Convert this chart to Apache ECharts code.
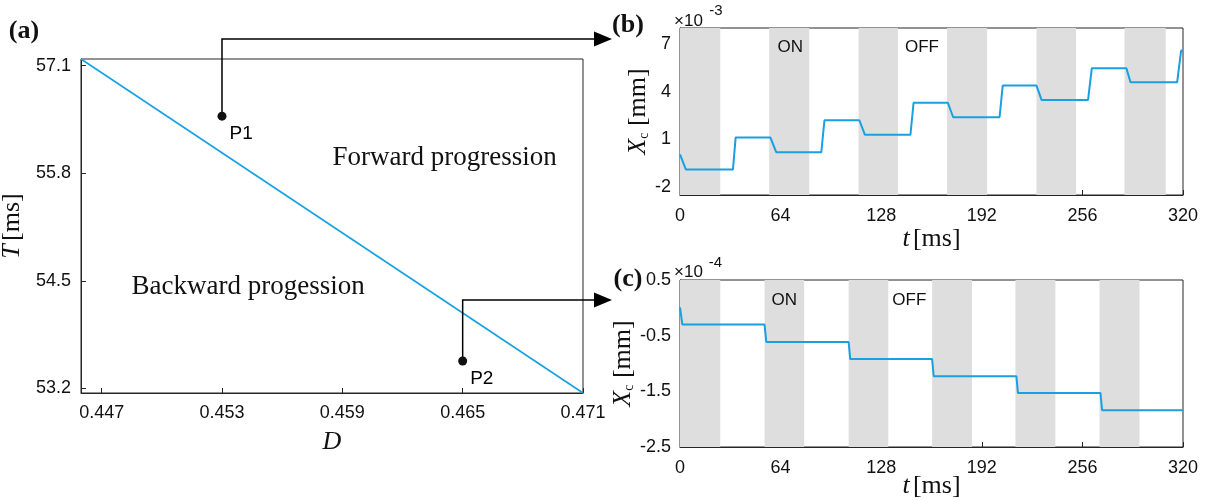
<!DOCTYPE html>
<html><head><meta charset="utf-8">
<script src="https://cdn.jsdelivr.net/npm/echarts@6/dist/echarts.min.js"></script>
<style>html,body{margin:0;padding:0;background:#fff}#c{width:1210px;height:500px}</style>
</head><body><div id="c"></div>
<script>
// ---------- Panel (a) ----------
const aLineD = [0.44597, 0.471];
const aLineT = [57.181, 53.143];
const pointNames = ['P1', 'P2'];
const pointD = [0.453, 0.465];
const pointT = [56.49, 53.53];
const aXTicks = [0.447, 0.453, 0.459, 0.465, 0.471];
const aYTicks = [53.2, 54.5, 55.8, 57.1];
const aTexts = ['Forward progression', 'Backward progession'];
const aTextD = [0.4641, 0.4543];
const aTextT = [55.99, 54.42];
// ---------- Panel (b) ----------
const bT = [0, 3.7, 33.7, 35.4, 57.5, 61.2, 89.9, 91.9, 114.1, 117.6, 146.6, 148.6, 170.4, 173.8, 203.3, 205.3, 226.8, 230, 259.6, 262, 284, 286.6, 316.3, 318.8, 320];
const bX = [0.05, -0.89, -0.89, 1.12, 1.12, 0.19, 0.19, 2.2, 2.2, 1.29, 1.29, 3.3, 3.3, 2.39, 2.39, 4.38, 4.38, 3.48, 3.48, 5.47, 5.47, 4.59, 4.59, 6.58, 6.58];
const bBandStart = [0, 56.7, 113.6, 169.9, 226.8, 282.8];
const bBandEnd = [25.6, 82.2, 138.7, 195.4, 252, 309];
const bYTicks = [-2, 1, 4, 7];
const bLabels = ['ON', 'OFF'];
const bLabelT = [70.1, 153.9];
const bLabelX = [6.77, 6.77];
// ---------- Panel (c) ----------
const cT = [0, 1.5, 53.8, 54.9, 107.3, 108.3, 160.4, 161.4, 214, 215, 267.5, 268.5, 320];
const cX = [0.01, -0.30, -0.30, -0.615, -0.615, -0.92, -0.92, -1.227, -1.227, -1.532, -1.532, -1.838, -1.838];
const cBandStart = [0, 53.8, 107.3, 160.4, 213.4, 266.9];
const cBandEnd = [25.6, 79, 132.5, 185.8, 238.8, 292.3];
const cYTicks = [-2.5, -1.5, -0.5, 0.5];
const cLabels = ['ON', 'OFF'];
const cLabelT = [66.3, 145.9];
const cLabelX = [0.14, 0.14];
const tTicks = [0, 64, 128, 192, 256, 320];

const SERIF = '"Liberation Serif", "Times New Roman", serif';
const SANS = '"Liberation Sans", Arial, sans-serif';
const INK = '#111111';
const AX = '#262626';
const BLUE = '#18a0e2';
const BAND = '#dedede';

const gridA = {left: 81, top: 59, width: 502, height: 334};
const gridB = {left: 680, top: 28, width: 503, height: 167};
const gridC = {left: 680, top: 280, width: 503, height: 167};

function gridOpt(g) {
  return Object.assign({show: true, borderColor: AX, borderWidth: 1, backgroundColor: 'transparent', containLabel: false, outerBoundsMode: 'none'}, g);
}
function valAxis(opts) {
  const base = {
    type: 'value', scale: true,
    axisLine: {show: true, onZero: false, lineStyle: {color: AX, width: 1}},
    axisTick: {show: true, inside: true, length: 5, lineStyle: {color: AX, width: 1}, customValues: opts.ticks},
    axisLabel: {show: true, color: INK, fontFamily: SANS, fontSize: opts.fs || 18, margin: opts.margin || 10, customValues: opts.ticks, formatter: opts.fmt},
    splitLine: {show: false},
    nameTextStyle: {}
  };
  delete opts.ticks; delete opts.fs; delete opts.margin; delete opts.fmt;
  return Object.assign(base, opts);
}
function xmsName(gap) {
  return {
    name: '{t|t} {n|[ms]}', nameLocation: 'middle', nameGap: gap, nameMoveOverlap: false,
    nameTextStyle: {rich: {t: {fontFamily: SERIF, fontStyle: 'italic', fontSize: 26, color: INK}, n: {fontFamily: SERIF, fontSize: 26, color: INK}}}
  };
}
function xcName() {
  return {
    name: '{x|X}{s|c}{n| [mm]}', nameLocation: 'middle', nameGap: 22, nameRotate: 90,
    nameTextStyle: {rich: {
      x: {fontFamily: SERIF, fontStyle: 'italic', fontSize: 26, color: INK, verticalAlign: 'bottom', lineHeight: 30},
      s: {fontFamily: SERIF, fontSize: 14, color: INK, verticalAlign: 'bottom', lineHeight: 24},
      n: {fontFamily: SERIF, fontSize: 26, color: INK, verticalAlign: 'bottom', lineHeight: 30}
    }}
  };
}

function bandData(s, e) { return s.map((v, i) => [{xAxis: v}, {xAxis: e[i]}]); }
function pairs(xs, ys) { return xs.map((v, i) => [v, ys[i]]); }

const chart = echarts.init(document.getElementById('c'), null, {renderer: 'canvas'});
const option = {
  animation: false,
  backgroundColor: '#fff',
  grid: [gridOpt(gridA), gridOpt(gridB), gridOpt(gridC)],
  xAxis: [
    Object.assign(valAxis({gridIndex: 0, min: 0.44597, max: 0.471, ticks: aXTicks, fs: 18, margin: 11, fmt: v => v.toFixed(3)}), {
      name: 'D', nameLocation: 'middle', nameGap: 36,
      nameTextStyle: {fontFamily: SERIF, fontStyle: 'italic', fontSize: 26, color: INK}
    }),
    Object.assign(valAxis({gridIndex: 1, min: 0, max: 320, ticks: tTicks, margin: 12, fmt: v => String(v)}), xmsName(31)),
    Object.assign(valAxis({gridIndex: 2, min: 0, max: 320, ticks: tTicks, margin: 12, fmt: v => String(v)}), xmsName(26))
  ],
  yAxis: [
    Object.assign(valAxis({gridIndex: 0, min: 53.143, max: 57.181, ticks: aYTicks, fs: 18, margin: 10, fmt: v => v.toFixed(1)}), {
      name: '{t|T} {n|[ms]}', nameLocation: 'middle', nameGap: 56, nameRotate: 90,
      nameTextStyle: {rich: {t: {fontFamily: SERIF, fontStyle: 'italic', fontSize: 26, color: INK}, n: {fontFamily: SERIF, fontSize: 26, color: INK}}}
    }),
    Object.assign(valAxis({gridIndex: 1, min: -2.5, max: 8, ticks: bYTicks, margin: 9, fmt: v => String(v)}), xcName()),
    Object.assign(valAxis({gridIndex: 2, min: -2.5, max: 0.5, ticks: cYTicks, margin: 9, fmt: v => String(v)}), xcName())
  ],
  series: [
    {type: 'line', xAxisIndex: 0, yAxisIndex: 0, data: pairs(aLineD, aLineT), symbol: 'none', lineStyle: {color: BLUE, width: 1.6}, silent: true, z: 3},
    {type: 'scatter', xAxisIndex: 0, yAxisIndex: 0, symbol: 'circle', symbolSize: 9, itemStyle: {color: '#111', opacity: 1},
      data: pointNames.map((n, i) => ({name: n, value: [pointD[i], pointT[i]]})),
      label: {show: true, formatter: p => p.name, position: 'right', distance: 3, offset: [0, 18], fontFamily: SANS, fontSize: 19, color: '#000', opacity: 1, textBorderWidth: 0}, z: 6},
    {type: 'line', xAxisIndex: 1, yAxisIndex: 1, data: [], symbol: 'none', silent: true, z: 1,
      markArea: {silent: true, itemStyle: {color: BAND}, data: bandData(bBandStart, bBandEnd)}},
    {type: 'line', xAxisIndex: 1, yAxisIndex: 1, data: pairs(bT, bX), symbol: 'none', lineStyle: {color: BLUE, width: 2}, silent: true, z: 3},
    {type: 'line', xAxisIndex: 2, yAxisIndex: 2, data: [], symbol: 'none', silent: true, z: 1,
      markArea: {silent: true, itemStyle: {color: BAND}, data: bandData(cBandStart, cBandEnd)}},
    {type: 'line', xAxisIndex: 2, yAxisIndex: 2, data: pairs(cT, cX), symbol: 'none', lineStyle: {color: BLUE, width: 2}, silent: true, z: 3}
  ]
};
chart.setOption(option);

// annotations
const g = [];
function txt(x, y, text, style) {
  g.push({type: 'text', x: x, y: y, silent: true, z: 20,
    style: Object.assign({text: text, fill: INK, align: 'center', verticalAlign: 'middle'}, style)});
}
// panel labels
txt(24, 31, '(a)', {font: 'bold 26px ' + SERIF});
txt(628, 25, '(b)', {font: 'bold 26px ' + SERIF});
txt(628, 279, '(c)', {font: 'bold 26px ' + SERIF});
// exponent labels
txt(688.5, 21.5, '\u00d710', {font: '17px ' + SANS});
txt(716, 11, '-3', {font: '15px ' + SANS});
txt(688.5, 272, '\u00d710', {font: '17px ' + SANS});
txt(715.5, 262.5, '-4', {font: '15px ' + SANS});
// region labels in (a)
aTexts.forEach((t, i) => {
  const p = chart.convertToPixel({gridIndex: 0}, [aTextD[i], aTextT[i]]);
  txt(p[0], p[1], t, {font: '27px ' + SERIF});
});
bLabels.forEach((t, i) => {
  const p = chart.convertToPixel({gridIndex: 1}, [bLabelT[i], bLabelX[i]]);
  txt(p[0], p[1], t, {font: '17px ' + SANS});
});
cLabels.forEach((t, i) => {
  const p = chart.convertToPixel({gridIndex: 2}, [cLabelT[i], cLabelX[i]]);
  txt(p[0], p[1], t, {font: '17px ' + SANS});
});
// arrows from P1 / P2
const arrowY = [39, 300];
const tipX = gridB.left - 68;
pointNames.forEach((n, i) => {
  const p = chart.convertToPixel({gridIndex: 0}, [pointD[i], pointT[i]]);
  g.push({type: 'polyline', silent: true, z: 5, shape: {points: [[p[0], p[1]], [p[0], arrowY[i]], [tipX - 17, arrowY[i]]]},
    style: {stroke: '#000', lineWidth: 1.5, fill: null}});
  g.push({type: 'polygon', silent: true, z: 5, shape: {points: [[tipX - 18, arrowY[i] - 7.5], [tipX, arrowY[i]], [tipX - 18, arrowY[i] + 7.5]]},
    style: {fill: '#000'}});
});
chart.setOption({graphic: {elements: g}});
</script>
</body></html>
